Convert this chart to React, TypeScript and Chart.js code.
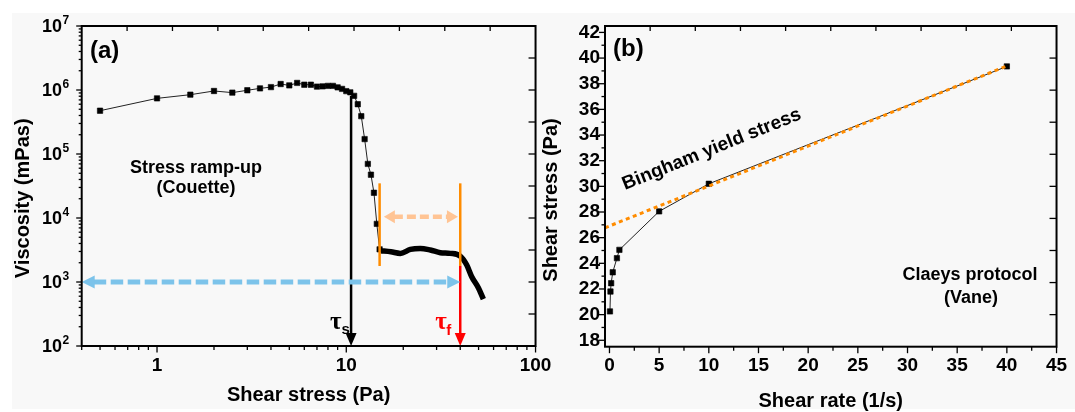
import React, { useEffect, useRef } from 'react';
import { Chart, registerables } from 'chart.js';

Chart.register(...registerables);

const SANS = '"Liberation Sans", Arial, Helvetica, sans-serif';
const SERIF = '"Liberation Serif", "Times New Roman", serif';
const ORANGE = '#ff8c00';
const PEACH = '#ffc494';
const BLUE = '#7cc3ea';
const RED = '#ff0000';

// ---- Panel (a): stress ramp-up in Couette geometry ----
const rampStress = [0.5, 1, 1.5, 2, 2.5, 3, 3.5, 4, 4.5, 5, 5.5, 6, 6.5, 7, 7.5, 8, 8.5, 9, 9.5, 10, 10.5, 11, 11.5, 12, 12.5, 13, 13.5, 14, 14.5, 15];
const rampViscosity = [4.75e5, 7.4e5, 8.45e5, 9.65e5, 9.1e5, 9.9e5, 1.06e6, 1.11e6, 1.24e6, 1.18e6, 1.29e6, 1.21e6, 1.21e6, 1.13e6, 1.14e6, 1.16e6, 1.16e6, 1.1e6, 1.04e6, 9.6e5, 9.2e5, 8.1e5, 6.0e5, 3.9e5, 1.71e5, 7.0e4, 4.75e4, 2.48e4, 8.1e3, 3.24e3];
// densely sampled flowing regime after yielding
const flowStress = [15.2, 17.2, 19.3, 21.8, 24.6, 27.8, 31.4, 35.4, 40, 43.3, 46, 50, 53];
const flowViscosity = [3.08e3, 2.97e3, 2.8e3, 3.23e3, 3.35e3, 3.16e3, 2.87e3, 2.8e3, 2.54e3, 1.84e3, 1.21e3, 8.0e2, 5.4e2];

const stressTickValues = [1, 10, 100];
const viscosityExponents = [2, 3, 4, 5, 6, 7];

// static yield stress (τs) and fluidisation stress (τf) markers
const yieldStress = 10.6;
const yieldViscosity = 8.1e5;
const fluidStress = 40;
const windowStress = [15, 40];
const windowViscosity = [3.48e4, 1.78e3];
const windowArrowStress = [15.8, 38.9];
const windowArrowViscosity = 1.05e4;
const rangeArrowStress = [0.4, 40];
const rangeArrowViscosity = 1e3;

// ---- Panel (b): Claeys protocol with vane ----
const shearRate = [0.05, 0.1, 0.17, 0.33, 0.75, 1, 5, 10, 40];
const shearStress = [20.25, 21.8, 22.45, 23.3, 24.4, 25.05, 28.05, 30.2, 39.35];
const binghamRate = [-0.45, 40];
const binghamStress = [26.77, 39.38];
const rateTicks = [0, 5, 10, 15, 20, 25, 30, 35, 40, 45];
const stressTicks = [18, 20, 22, 24, 26, 28, 30, 32, 34, 36, 38, 40, 42];

const tickFont = { family: SANS, size: 19, weight: 'bold' as const };

function seg(ctx: CanvasRenderingContext2D, x0: number, y0: number, x1: number, y1: number) {
  ctx.beginPath();
  ctx.moveTo(x0, y0);
  ctx.lineTo(x1, y1);
  ctx.stroke();
}

function head(ctx: CanvasRenderingContext2D, tx: number, ty: number, dx: number, dy: number, len: number, hw: number, color: string) {
  const bx = tx - dx * len;
  const by = ty - dy * len;
  const px = -dy;
  const py = dx;
  ctx.beginPath();
  ctx.moveTo(tx, ty);
  ctx.lineTo(bx + px * hw, by + py * hw);
  ctx.lineTo(bx - px * hw, by - py * hw);
  ctx.closePath();
  ctx.fillStyle = color;
  ctx.fill();
}

function downArrow(ctx: CanvasRenderingContext2D, x: number, yTop: number, yTip: number, color: string) {
  ctx.strokeStyle = color;
  ctx.lineWidth = 2.5;
  ctx.setLineDash([]);
  seg(ctx, x, yTop, x, yTip - 12);
  head(ctx, x, yTip, 0, 1, 13, 5.5, color);
}

function doubleArrow(ctx: CanvasRenderingContext2D, x0: number, x1: number, y: number, color: string, width: number, dash: number[], len: number, hw: number) {
  ctx.strokeStyle = color;
  ctx.lineWidth = width;
  ctx.setLineDash(dash);
  seg(ctx, x0 + len - 1, y, x1 - len + 1, y);
  ctx.setLineDash([]);
  head(ctx, x0, y, -1, 0, len, hw, color);
  head(ctx, x1, y, 1, 0, len, hw, color);
}

type TickMark = { v: number; len: number };

function drawFrameAndTicks(chart: any, bottomTicks: TickMark[], leftTicks: TickMark[]) {
  const { ctx, chartArea: a } = chart;
  const xs = chart.scales.x;
  const ys = chart.scales.y;
  ctx.save();
  ctx.strokeStyle = '#000';
  ctx.setLineDash([]);
  ctx.lineWidth = 2;
  ctx.strokeRect(a.left, a.top, a.right - a.left, a.bottom - a.top);
  ctx.lineWidth = 1.3;
  bottomTicks.forEach((t) => {
    const x = xs.getPixelForValue(t.v);
    seg(ctx, x, a.bottom, x, a.bottom + t.len);
  });
  leftTicks.forEach((t) => {
    const y = ys.getPixelForValue(t.v);
    seg(ctx, a.left, y, a.left - t.len, y);
  });
  // mirrored frame ticks (ten divisions, pointing inward)
  const w = a.right - a.left;
  const h = a.bottom - a.top;
  for (let k = 1; k < 10; k++) {
    const x = a.left + (w * k) / 10;
    seg(ctx, x, a.top, x, a.top + 5);
    const y = a.top + (h * k) / 10;
    seg(ctx, a.right, y, a.right - 7, y);
  }
  ctx.restore();
}

function logTicks(min: number, max: number, majorLen: number, minorLen: number): TickMark[] {
  const out: TickMark[] = [];
  for (let e = Math.floor(Math.log10(min)); e <= Math.ceil(Math.log10(max)); e++) {
    for (let m = 1; m <= 9; m++) {
      const v = m * Math.pow(10, e);
      if (v >= min * 0.999 && v <= max * 1.001) out.push({ v, len: m === 1 ? majorLen : minorLen });
    }
  }
  return out;
}

function linTicks(majors: number[], majorLen: number, minorLen: number): TickMark[] {
  const out: TickMark[] = [];
  majors.forEach((v, i) => {
    out.push({ v, len: majorLen });
    if (i < majors.length - 1) out.push({ v: (v + majors[i + 1]) / 2, len: minorLen });
  });
  return out;
}

function text(ctx: CanvasRenderingContext2D, s: string, x: number, y: number, font: string, align: CanvasTextAlign = 'center', color = '#000') {
  ctx.font = font;
  ctx.textAlign = align;
  ctx.textBaseline = 'alphabetic';
  ctx.fillStyle = color;
  ctx.fillText(s, x, y);
}

function rotatedText(ctx: CanvasRenderingContext2D, s: string, x: number, y: number, angle: number, font: string, align: CanvasTextAlign) {
  ctx.save();
  ctx.translate(x, y);
  ctx.rotate(angle);
  text(ctx, s, 0, 0, font, align);
  ctx.restore();
}

const panelAPlugin = {
  id: 'panelA',
  afterDatasetsDraw(chart: any) {
    const { ctx, chartArea: a } = chart;
    const X = (v: number) => chart.scales.x.getPixelForValue(v);
    const Y = (v: number) => chart.scales.y.getPixelForValue(v);
    ctx.save();
    ctx.strokeStyle = ORANGE;
    ctx.lineWidth = 2.5;
    windowStress.forEach((s) => seg(ctx, X(s), Y(windowViscosity[0]), X(s), Y(windowViscosity[1])));
    downArrow(ctx, X(yieldStress), Y(yieldViscosity), a.bottom, '#000');
    downArrow(ctx, X(fluidStress), Y(windowViscosity[1]), a.bottom, RED);
    doubleArrow(ctx, X(windowArrowStress[0]), X(windowArrowStress[1]), Y(windowArrowViscosity), PEACH, 4.5, [9, 4], 11, 6.5);
    doubleArrow(ctx, X(rangeArrowStress[0]), X(rangeArrowStress[1]), Y(rangeArrowViscosity), BLUE, 5, [12.5, 4.5], 13, 6.5);
    ctx.restore();
  },
  afterDraw(chart: any) {
    const { ctx, chartArea: a } = chart;
    const X = (v: number) => chart.scales.x.getPixelForValue(v);
    const Y = (v: number) => chart.scales.y.getPixelForValue(v);
    drawFrameAndTicks(chart, logTicks(0.4, 100, 6.5, 4), logTicks(1e2, 1e7, 5.5, 3));
    ctx.save();
    // decade labels with superscript exponents
    viscosityExponents.forEach((e) => {
      const y = Y(Math.pow(10, e));
      text(ctx, '10', a.left - 19.7, y + 6.3, `bold 18px ${SANS}`, 'right');
      text(ctx, String(e), a.left - 19.2, y - 2.5, `bold 12px ${SANS}`, 'left');
    });
    rotatedText(ctx, 'Viscosity (mPas)', 29.3, 198.3, -Math.PI / 2, `bold 20px ${SANS}`, 'center');
    text(ctx, 'Shear stress (Pa)', (a.left + a.right) / 2, 401, `bold 20px ${SANS}`);
    text(ctx, '(a)', 90, 58, `bold 24px ${SANS}`, 'left');
    text(ctx, 'Stress ramp-up', 196, 173, `bold 18px ${SANS}`);
    text(ctx, '(Couette)', 196, 193, `bold 18px ${SANS}`);
    // τs / τf
    const xs = X(yieldStress);
    text(ctx, 'τ', xs - 21, 328.5, `bold 25px ${SERIF}`, 'left');
    text(ctx, 's', xs - 9.5, 334, `bold 15px ${SANS}`, 'left');
    const xf = X(fluidStress);
    text(ctx, 'τ', xf - 25, 328.5, `bold 25px ${SERIF}`, 'left', RED);
    text(ctx, 'f', xf - 14, 335, `bold 15px ${SANS}`, 'left', RED);
    ctx.restore();
  },
};

const panelBPlugin = {
  id: 'panelB',
  afterDraw(chart: any) {
    const { ctx, chartArea: a } = chart;
    const X = (v: number) => chart.scales.x.getPixelForValue(v);
    const Y = (v: number) => chart.scales.y.getPixelForValue(v);
    drawFrameAndTicks(chart, linTicks(rateTicks, 6.5, 4), linTicks(stressTicks, 6, 3.5));
    ctx.save();
    rotatedText(ctx, 'Shear stress (Pa)', 27, 200, -Math.PI / 2, `bold 20px ${SANS}`, 'center');
    text(ctx, 'Shear rate (1/s)', (a.left + a.right) / 2, 407, `bold 20px ${SANS}`);
    text(ctx, '(b)', 83, 56, `bold 24px ${SANS}`, 'left');
    const angle = Math.atan2(Y(binghamStress[1]) - Y(binghamStress[0]), X(binghamRate[1]) - X(binghamRate[0]));
    rotatedText(ctx, 'Bingham yield stress', 95, 190, angle, `bold 19px ${SANS}`, 'left');
    text(ctx, 'Claeys protocol', 440, 279.5, `bold 18px ${SANS}`);
    text(ctx, '(Vane)', 441, 303, `bold 18px ${SANS}`);
    ctx.restore();
  },
};

function pts(xs: number[], ys: number[]) {
  return xs.map((x, i) => ({ x, y: ys[i] }));
}

function configA(): any {
  return {
    type: 'line',
    data: {
      datasets: [
        {
          data: pts(rampStress, rampViscosity),
          borderColor: '#222',
          borderWidth: 1,
          pointStyle: 'rect',
          pointRadius: 3.8,
          pointBackgroundColor: '#000',
          pointBorderColor: '#000',
          pointBorderWidth: 0.6,
          order: 1,
        },
        {
          data: pts(flowStress, flowViscosity),
          borderColor: '#000',
          borderWidth: 5.5,
          pointRadius: 0,
          cubicInterpolationMode: 'monotone',
          borderJoinStyle: 'round',
          order: 0,
        },
      ],
    },
    options: {
      animation: false,
      responsive: false,
      maintainAspectRatio: false,
      events: [],
      layout: { padding: { left: 0, top: 26, right: 20.7, bottom: 0 } },
      plugins: { legend: { display: false }, tooltip: { enabled: false } },
      scales: {
        x: {
          type: 'logarithmic',
          min: 0.4,
          max: 100,
          grid: { display: false, drawTicks: false },
          border: { display: false },
          ticks: { font: tickFont, color: '#000', padding: 8.6, autoSkip: false, maxRotation: 0, callback: (v: number) => String(v) },
          afterBuildTicks: (s: any) => { s.ticks = stressTickValues.map((v) => ({ value: v })); },
          afterFit: (s: any) => { s.height = 66; },
        },
        y: {
          type: 'logarithmic',
          min: 1e2,
          max: 1e7,
          grid: { display: false, drawTicks: false },
          border: { display: false },
          ticks: { display: false },
          afterBuildTicks: (s: any) => { s.ticks = viscosityExponents.map((e) => ({ value: Math.pow(10, e) })); },
          afterFit: (s: any) => { s.width = 81.7; },
        },
      },
    },
    plugins: [panelAPlugin],
  };
}

function configB(): any {
  return {
    type: 'line',
    data: {
      datasets: [
        {
          data: pts(binghamRate, binghamStress),
          borderColor: ORANGE,
          borderWidth: 3,
          borderDash: [4, 3.5],
          pointRadius: 0,
          order: 0,
        },
        {
          data: pts(shearRate, shearStress),
          borderColor: '#222',
          borderWidth: 1,
          pointStyle: 'rect',
          pointRadius: 3.8,
          pointBackgroundColor: '#000',
          pointBorderColor: '#000',
          pointBorderWidth: 0.6,
          order: 1,
        },
      ],
    },
    options: {
      animation: false,
      responsive: false,
      maintainAspectRatio: false,
      events: [],
      layout: { padding: { left: 0, top: 26, right: 12.3, bottom: 0 } },
      plugins: { legend: { display: false }, tooltip: { enabled: false } },
      scales: {
        x: {
          type: 'linear',
          min: -0.45,
          max: 45,
          grid: { display: false, drawTicks: false },
          border: { display: false },
          ticks: { font: tickFont, color: '#000', padding: 7.9, autoSkip: false, maxRotation: 0, callback: (v: number) => String(v) },
          afterBuildTicks: (s: any) => { s.ticks = rateTicks.map((v) => ({ value: v })); },
          afterFit: (s: any) => { s.height = 65.3; },
        },
        y: {
          type: 'linear',
          min: 17.5,
          max: 42.5,
          grid: { display: false, drawTicks: false },
          border: { display: false },
          ticks: { font: tickFont, color: '#000', padding: 5, autoSkip: false, callback: (v: number) => String(v) },
          afterBuildTicks: (s: any) => { s.ticks = stressTicks.map((v) => ({ value: v })); },
          afterFit: (s: any) => { s.width = 75; },
        },
      },
    },
    plugins: [panelBPlugin],
  };
}

export default function App() {
  const refA = useRef<HTMLCanvasElement>(null);
  const refB = useRef<HTMLCanvasElement>(null);

  useEffect(() => {
    const a = new Chart(refA.current as HTMLCanvasElement, configA());
    const b = new Chart(refB.current as HTMLCanvasElement, configB());
    return () => {
      a.destroy();
      b.destroy();
    };
  }, []);

  return (
    <div style={{ position: 'fixed', left: 0, top: 0, width: 1075, height: 412, background: '#fff', overflow: 'hidden' }}>
      <div style={{ position: 'absolute', left: 12, top: 13, width: 1063, height: 396, background: '#f8f8f8' }} />
      <canvas ref={refA} width={560} height={412} style={{ position: 'absolute', left: 0, top: 0, width: 560, height: 412 }} />
      <canvas ref={refB} width={545} height={412} style={{ position: 'absolute', left: 530, top: 0, width: 545, height: 412 }} />
    </div>
  );
}
